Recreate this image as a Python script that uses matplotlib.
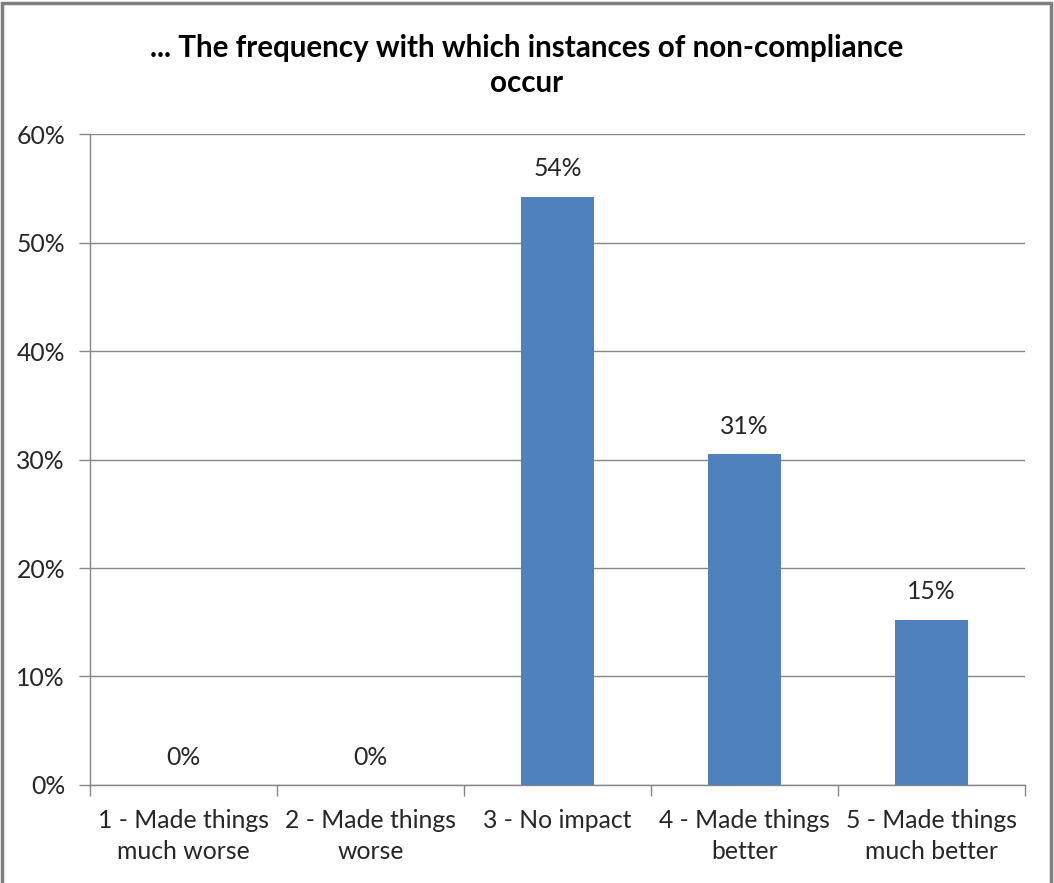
import matplotlib
matplotlib.use("Agg")
import matplotlib.pyplot as plt
from matplotlib.patches import Rectangle
from matplotlib.ticker import FuncFormatter

plt.rcParams['font.family'] = ['Lato', 'DejaVu Sans']

title = "... The frequency with which instances of non-compliance\noccur"
categories = [
    "1 - Made things\nmuch worse",
    "2 - Made things\nworse",
    "3 - No impact",
    "4 - Made things\nbetter",
    "5 - Made things\nmuch better",
]
shares = [0.0, 0.0, 54.24, 30.51, 15.25]
y_ticks = [0, 10, 20, 30, 40, 50, 60]

bar_color = "#4F81BD"
axis_color = "#868686"
text_color = "#262626"

fig = plt.figure(figsize=(10.54, 8.83), dpi=100)
fig.patch.set_facecolor("white")
fig.patches.append(Rectangle((0.002, -0.01), 0.995, 1.0065, transform=fig.transFigure,
                             fill=False, edgecolor="#7f7f7f", linewidth=2.5))

ax = fig.add_axes([0.0854, 0.111, 0.8871, 0.7372])
x = list(range(len(categories)))
ax.bar(x, shares, width=0.39, color=bar_color, zorder=3)

ax.set_xlim(-0.5, len(categories) - 0.5)
ax.set_ylim(0, 60)
ax.set_yticks(y_ticks)
ax.yaxis.set_major_formatter(FuncFormatter(lambda v, _: f"{v:.0f}%"))
ax.grid(axis="y", color=axis_color, linewidth=1.0, zorder=0)
ax.set_axisbelow(True)

ax.set_xticks(x)
ax.set_xticklabels(categories, fontsize=17.8, color=text_color, linespacing=1.45)
ax.set_xticks([i - 0.5 for i in range(len(categories) + 1)], minor=True)
ax.tick_params(axis="x", which="major", length=0, pad=17)
ax.tick_params(axis="x", which="minor", length=8, color=axis_color, width=1)
ax.tick_params(axis="y", length=8, color=axis_color, width=1, labelsize=17.8,
               labelcolor=text_color, pad=10)

for side in ("top", "right"):
    ax.spines[side].set_visible(False)
for side in ("left", "bottom"):
    ax.spines[side].set_color(axis_color)
    ax.spines[side].set_linewidth(1.0)

for xi, v in zip(x, shares):
    ax.annotate(f"{v:.0f}%", (xi, v), xytext=(0, 20), textcoords="offset points",
                ha="center", va="center", fontsize=17.8, color=text_color)

fig.text(0.5, 0.926, title, ha="center", va="center", fontsize=21.3,
         fontweight="bold", color="black", linespacing=1.3)

fig.savefig("out.png", dpi=100, facecolor="white")
